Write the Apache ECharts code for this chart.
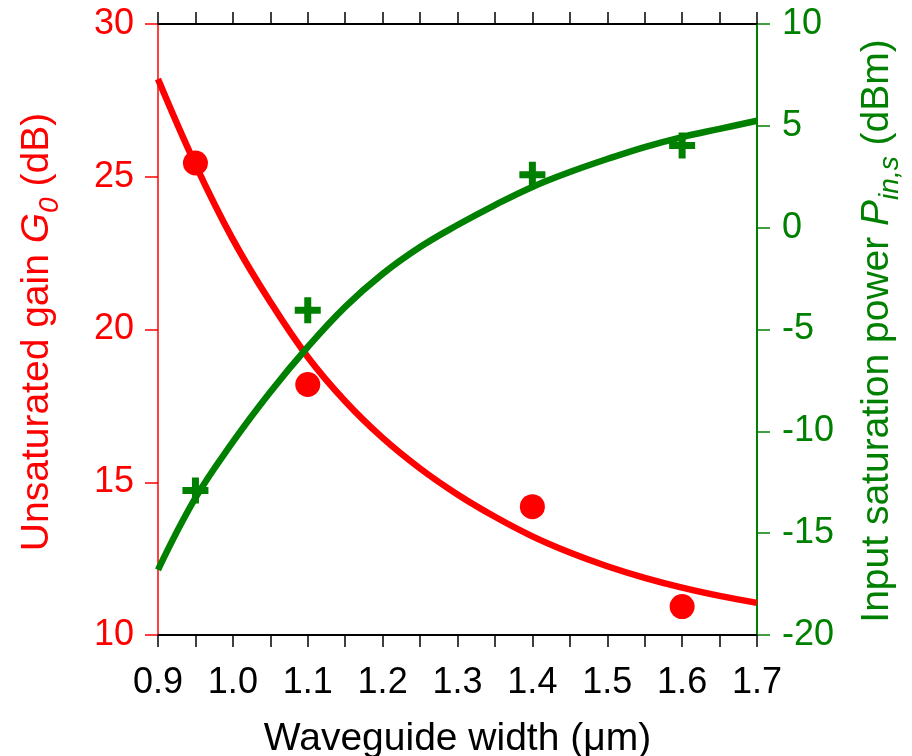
<!DOCTYPE html>
<html>
<head>
<meta charset="utf-8">
<script src="https://cdn.jsdelivr.net/npm/echarts@6/dist/echarts.min.js"></script>
<style>
  html, body { margin: 0; background: #fff; }
  #chart { width: 912px; height: 756px; }
</style>
</head>
<body>
<div id="chart"></div>
<script>
// fitted curves, every 0.05 um
const widthFit = [0.9, 0.95, 1.0, 1.05, 1.1, 1.15, 1.2, 1.25, 1.3, 1.35, 1.4, 1.45, 1.5, 1.55, 1.6, 1.65, 1.7];
const gainFit = [28.2, 25.4, 22.95, 20.9, 19.1, 17.65, 16.45, 15.45, 14.6, 13.87, 13.23, 12.7, 12.25, 11.87, 11.55, 11.28, 11.05];
const powerFit = [-16.8, -13.27, -10.52, -8.07, -5.86, -3.89, -2.27, -0.95, 0.13, 1.11, 2.0, 2.73, 3.37, 3.96, 4.45, 4.85, 5.25];

// measured points
const widthMeas = [0.95, 1.1, 1.4, 1.6];
const gainMeas = [25.45, 18.2, 14.2, 10.93];
const powerMeas = [-12.9, -4.05, 2.6, 4.03];

const RED = "#ff0000";
const GREEN = "#008000";
const FONT = "'Liberation Sans', Arial, sans-serif";

const pairs = (xs, ys) => xs.map((x, i) => [x, ys[i]]);
const plus = "path://M9.5,0H16.5V9.5H26V16.5H16.5V26H9.5V16.5H0V9.5H9.5Z";

const chart = echarts.init(document.getElementById("chart"));

const xCommon = {
  type: "value",
  min: 0.9,
  max: 1.7,
  interval: 0.1,
  axisLine: { show: true, onZero: false, lineStyle: { color: "#000", width: 2 } },
  axisTick: { show: true, length: 12, lineStyle: { color: "#000", width: 1.5 } },
  minorTick: { show: true, splitNumber: 2, length: 12, lineStyle: { color: "#000", width: 1.5 } },
  splitLine: { show: false },
};

const option = {
  animation: false,
  grid: { left: 158, right: 155, top: 24, bottom: 121, containLabel: false, outerBoundsMode: "none" },
  xAxis: [
    {
      ...xCommon,
      position: "bottom",
      axisLabel: {
        color: "#000", fontSize: 36, fontFamily: FONT, margin: 30,
        formatter: (v) => v.toFixed(1),
      },
      name: "Waveguide width (μm)",
      nameLocation: "middle",
      nameGap: 85,
      nameTextStyle: { color: "#000", fontSize: 39, fontFamily: FONT },
    },
    {
      ...xCommon,
      position: "top",
      axisLabel: { show: false },
    },
  ],
  yAxis: [
    {
      type: "value",
      position: "left",
      min: 10,
      max: 30,
      interval: 5,
      axisLine: { show: true, lineStyle: { color: RED, width: 1.5 } },
      axisTick: { show: true, length: 13, lineStyle: { color: RED, width: 1.5 } },
      axisLabel: { color: RED, fontSize: 36, fontFamily: FONT, margin: 24 },
      splitLine: { show: false },
    },
    {
      type: "value",
      position: "right",
      min: -20,
      max: 10,
      interval: 5,
      axisLine: { show: true, lineStyle: { color: GREEN, width: 2 } },
      axisTick: { show: true, length: 13, lineStyle: { color: GREEN, width: 1.5 } },
      axisLabel: { color: GREEN, fontSize: 36, fontFamily: FONT, margin: 25 },
      splitLine: { show: false },
    },
  ],
  series: [
    {
      type: "line",
      data: pairs(widthFit, gainFit),
      smooth: 0.4,
      showSymbol: false,
      lineStyle: { color: RED, width: 6.5 },
      z: 2,
    },
    {
      type: "line",
      yAxisIndex: 1,
      data: pairs(widthFit, powerFit),
      smooth: 0.4,
      showSymbol: false,
      lineStyle: { color: GREEN, width: 6.5 },
      z: 2,
    },
    {
      type: "scatter",
      data: pairs(widthMeas, gainMeas),
      symbol: "circle",
      symbolSize: 25,
      itemStyle: { color: RED, opacity: 1 },
      z: 3,
    },
    {
      type: "scatter",
      yAxisIndex: 1,
      data: pairs(widthMeas, powerMeas),
      symbol: plus,
      symbolSize: 26,
      itemStyle: { color: GREEN, opacity: 1 },
      z: 3,
    },
  ],
  graphic: [
    {
      type: "text",
      x: 38,
      y: 332,
      rotation: Math.PI / 2,
      style: {
        text: "{n|Unsaturated gain }{i|G}{s|0}{n| (dB)}",
        align: "center",
        verticalAlign: "middle",
        rich: {
          n: { fill: RED, fontSize: 39, fontFamily: FONT, verticalAlign: "top", lineHeight: 40 },
          i: { fill: RED, fontSize: 39, fontFamily: FONT, fontStyle: "italic", verticalAlign: "top", lineHeight: 40 },
          s: { fill: RED, fontSize: 28, fontFamily: FONT, fontStyle: "italic", verticalAlign: "top", lineHeight: 28, padding: [18, 0, 0, 0] },
        },
      },
    },
    {
      type: "text",
      x: 878,
      y: 331,
      rotation: Math.PI / 2,
      style: {
        text: "{n|Input saturation power }{i|P}{s|in,s}{n| (dBm)}",
        align: "center",
        verticalAlign: "middle",
        rich: {
          n: { fill: GREEN, fontSize: 39, fontFamily: FONT, verticalAlign: "top", lineHeight: 40 },
          i: { fill: GREEN, fontSize: 39, fontFamily: FONT, fontStyle: "italic", verticalAlign: "top", lineHeight: 40 },
          s: { fill: GREEN, fontSize: 28, fontFamily: FONT, fontStyle: "italic", verticalAlign: "top", lineHeight: 28, padding: [18, 0, 0, 0] },
        },
      },
    },
  ],
};

chart.setOption(option);
</script>
</body>
</html>
